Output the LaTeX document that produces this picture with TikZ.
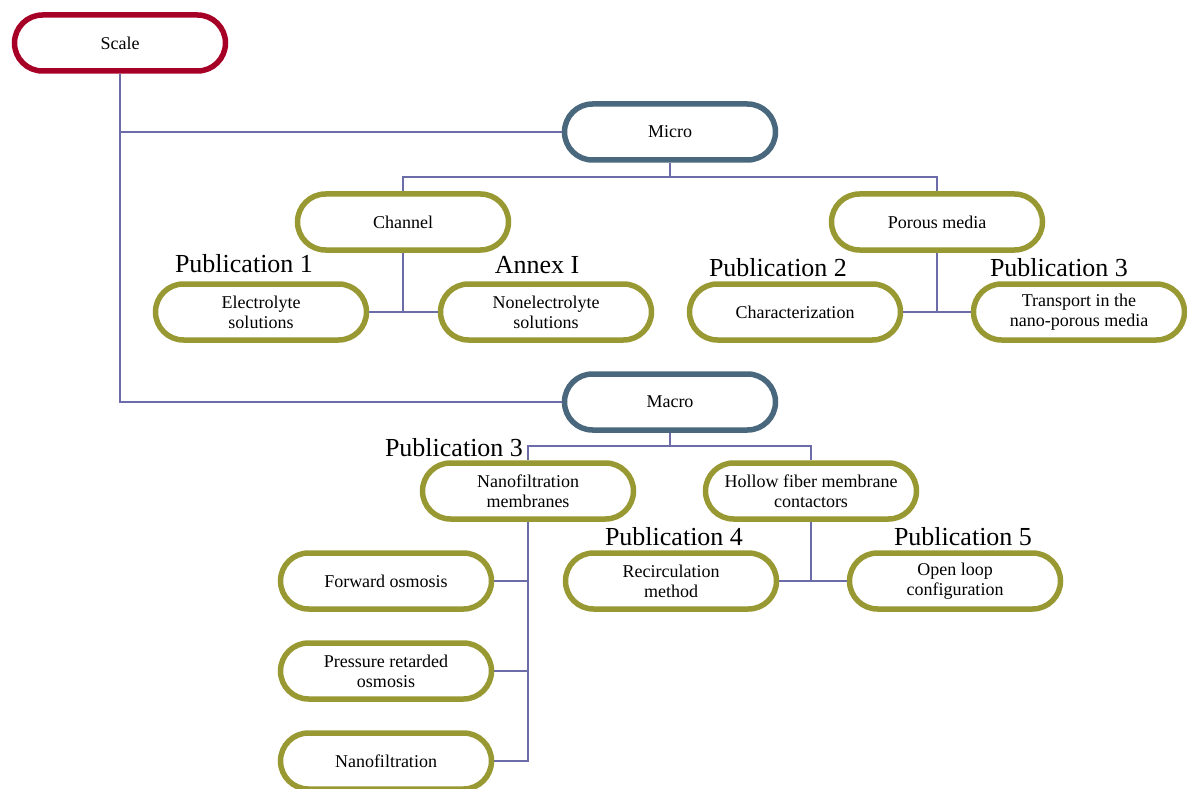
\documentclass[tikz,border=0pt]{standalone}
\usepackage{fontspec}
\setmainfont{Liberation Serif}
\usepackage{xcolor}
\definecolor{scalered}{RGB}{166,0,38}
\definecolor{levelblue}{RGB}{74,104,125}
\definecolor{olivebox}{RGB}{153,153,51}
\definecolor{linkblue}{RGB}{108,108,168}

\begin{document}
\begin{tikzpicture}[x=1pt, y=-1pt,
    box/.style={draw, line width=5.5pt, rounded corners=28pt, minimum width=211pt,
        minimum height=56pt, inner sep=0pt, outer sep=2.75pt, align=center,
        fill=white, font=\fontsize{18}{20}\selectfont},
    pub/.style={font=\fontsize{26}{30}\selectfont, inner sep=0pt},
    link/.style={draw=linkblue, line width=1.6pt}]
    \useasboundingbox (0,0) rectangle (1187,789);
    % Scale
    \node[box, draw=scalered] (scale) at (120,43) {Scale};
    % Micro / Macro
    \node[box, draw=levelblue] (micro) at (670,132) {Micro};
    \node[box, draw=levelblue] (macro) at (670,402) {Macro};
    % Micro branch
    \node[box, draw=olivebox] (channel) at (403,222) {Channel};
    \node[box, draw=olivebox] (porous) at (937,222) {Porous media};
    \node[box, draw=olivebox] (elec) at (261,312) {Electrolyte\\solutions};
    \node[box, draw=olivebox] (nonelec) at (546,312) {Nonelectrolyte\\solutions};
    \node[box, draw=olivebox] (charac) at (795,312) {Characterization};
    \node[box, draw=olivebox] (transport) at (1079,312) {Transport in the\\nano-porous media};
    % Macro branch
    \node[box, draw=olivebox] (nanomem) at (528,491) {Nanofiltration\\membranes};
    \node[box, draw=olivebox] (hollow) at (811,491) {Hollow fiber membrane\\contactors};
    \node[box, draw=olivebox] (recirc) at (671,581) {Recirculation\\method};
    \node[box, draw=olivebox] (openloop) at (955,581) {Open loop\\configuration};
    \node[box, draw=olivebox] (forward) at (386,581) {Forward osmosis};
    \node[box, draw=olivebox] (pressure) at (386,671) {Pressure retarded\\osmosis};
    \node[box, draw=olivebox] (nanofilt) at (386,761) {Nanofiltration};
    % Publications
    \node[pub] (pubA) at (244,264) {Publication 1};
    \node[pub] (annex) at (537,265) {Annex I};
    \node[pub] (pubB) at (778,268) {Publication 2};
    \node[pub] (pubC) at (1059,268) {Publication 3};
    \node[pub] (pubD) at (454,448) {Publication 3};
    \node[pub] (pubE) at (674,537) {Publication 4};
    \node[pub] (pubF) at (963,537) {Publication 5};
    % Links
    \draw[link] (scale.south) |- (micro.west);
    \draw[link] (scale.south) |- (macro.west);
    \draw[link] (micro.south) -- ++(0,14) coordinate (microfork) -| (channel.north);
    \draw[link] (microfork) -| (porous.north);
    \draw[link] (channel.south) |- (elec.east);
    \draw[link] (channel.south) |- (nonelec.west);
    \draw[link] (porous.south) |- (charac.east);
    \draw[link] (porous.south) |- (transport.west);
    \draw[link] (macro.south) -- ++(0,13) coordinate (macrofork) -| (nanomem.north);
    \draw[link] (macrofork) -| (hollow.north);
    \draw[link] (hollow.south) |- (recirc.east);
    \draw[link] (hollow.south) |- (openloop.west);
    \draw[link] (nanomem.south) |- (forward.east);
    \draw[link] (nanomem.south) |- (pressure.east);
    \draw[link] (nanomem.south) |- (nanofilt.east);
\end{tikzpicture}
\end{document}
